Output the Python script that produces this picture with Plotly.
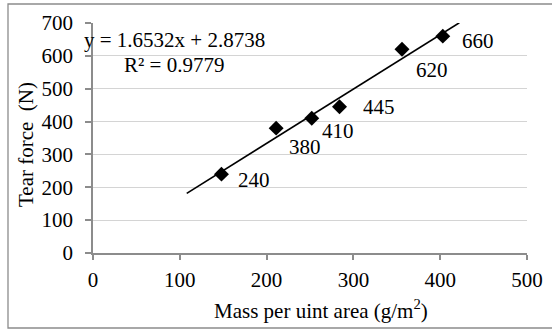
import plotly.graph_objects as go

# ---- data ----
mass = [148, 211, 252, 284, 356, 403]          # g/m2
tear = [240, 380, 410, 445, 620, 660]          # N
labels = ["240", "380", "410", "445", "620", "660"]
label_dx = [33, 29, 26, 39, 30, 35]            # label offsets (px)
label_dy = [-6, -19, -13, 0, -21, -5]
slope, intercept = 1.6532, 2.8738
trend_x = [108, 422]
x_ticks = [0, 100, 200, 300, 400, 500]
y_ticks = [0, 100, 200, 300, 400, 500, 600, 700]

FONT = "Liberation Serif, Times New Roman, serif"
FS = 21
W, H = 552, 329
L, R, T, B = 93, 25, 23, 76

fig = go.Figure()
fig.add_trace(go.Scatter(
    x=trend_x, y=[slope * v + intercept for v in trend_x],
    mode="lines", line=dict(color="black", width=1.7),
    hoverinfo="skip", cliponaxis=True))
fig.add_trace(go.Scatter(
    x=mass, y=tear, mode="markers",
    marker=dict(symbol="diamond", size=11.5, color="black")))

for xv, yv, t, dx, dy in zip(mass, tear, labels, label_dx, label_dy):
    fig.add_annotation(x=xv, y=yv, text=t, showarrow=False,
                       xanchor="center", yanchor="middle",
                       xshift=dx, yshift=dy, font=dict(size=FS, color="black", family=FONT))

pw, ph = W - L - R, H - T - B
def px(xp): return (xp - L) / pw
def py(yp): return (H - B - yp) / ph

def paper_text(xc, yc, text, **kw):
    fig.add_annotation(x=px(xc), y=py(yc), xref="paper", yref="paper",
                       xanchor="center", yanchor="middle",
                       text=text, showarrow=False,
                       font=dict(size=FS, color="black", family=FONT), **kw)

paper_text(174, 40, "y = 1.6532x + 2.8738")
paper_text(174, 65, "R² = 0.9779")
paper_text(321, 309, "Mass per uint area (g/m<sup>2</sup>)")
paper_text(26, 145, "Tear force  (N)", textangle=-90)

# outer chart frame
fig.add_shape(type="rect", xref="paper", yref="paper",
              x0=px(8), x1=px(570), y0=py(328), y1=py(4),
              line=dict(color="#8c8c8c", width=1.3), layer="below")

fig.update_layout(
    width=W, height=H,
    margin=dict(l=L, r=R, t=T, b=B, autoexpand=False),
    paper_bgcolor="white", plot_bgcolor="white",
    showlegend=False,
    font=dict(family=FONT, size=FS, color="black"),
    xaxis=dict(range=[0, 500], tickvals=x_ticks, showgrid=False, zeroline=False,
               automargin=False,
               showline=True, linecolor="#8c8c8c", linewidth=1.7,
               ticks="outside", ticklen=5, tickcolor="#8c8c8c", tickwidth=1.5,
               tickfont=dict(size=FS, family=FONT, color="black"),
               ticklabelstandoff=2),
    yaxis=dict(range=[0, 700], tickvals=y_ticks, showgrid=True, gridcolor="#d4d4d4",
               gridwidth=1.2, zeroline=False, automargin=False,
               showline=True, linecolor="#8c8c8c", linewidth=1.7,
               ticks="outside", ticklen=6, tickcolor="#8c8c8c", tickwidth=1.5,
               tickfont=dict(size=FS, family=FONT, color="black"),
               ticklabelstandoff=8),
)

fig.write_html("out.html", config={"displayModeBar": False},
               post_script="document.body.style.margin='0';document.body.style.padding='0';")
